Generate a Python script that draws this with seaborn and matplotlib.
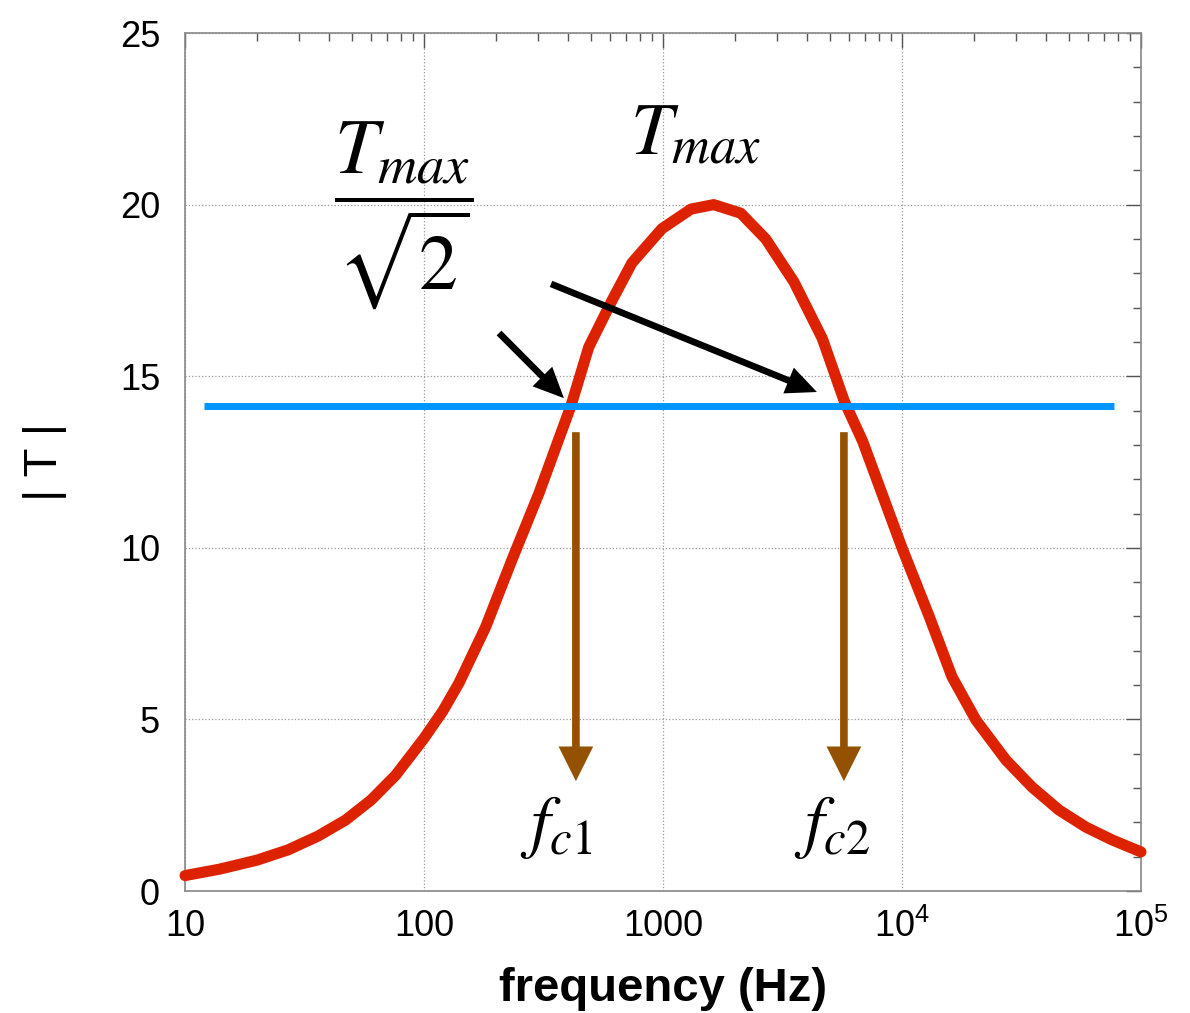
import numpy as np
import matplotlib
matplotlib.use("Agg")
import matplotlib.pyplot as plt
from matplotlib.ticker import FixedLocator, FixedFormatter, LogLocator, MultipleLocator, NullFormatter
import seaborn as sns

# --- données ---
freq = [10, 14, 20, 27, 36, 47, 60, 76, 100, 120, 140, 181, 233, 303, 412,
        489, 611, 741, 990, 1310, 1630, 2115, 2690, 3530, 4640, 5750, 6850,
        10000, 13000, 16200, 20400, 27200, 35000, 45400, 58900, 75700, 100000]
T_mod = [0.45, 0.64, 0.9, 1.2, 1.6, 2.07, 2.65, 3.37, 4.45, 5.25, 6.06, 7.69,
         9.64, 11.6, 14.14, 15.85, 17.2, 18.3, 19.3, 19.87, 20.0, 19.75, 19.0,
         17.75, 16.1, 14.25, 13.1, 10.0, 8.0, 6.24, 4.98, 3.82, 3.03, 2.36,
         1.86, 1.49, 1.14]

T_max = 20.0
niveau_freq = [12, 77000]
niveau_T = [T_max / np.sqrt(2)] * 2

fc = [432, 5715]           # fréquences de coupure
fc_labels = [r"$f_{\mathit{c1}}$", r"$f_{\mathit{c2}}$"]
fc_label_x = [356, 5095]
fc_arrow_top = 13.37
fc_arrow_tip = 3.2

xticks = [10, 100, 1000, 1e4, 1e5]
xtick_labels = ["10", "100", "1000", "$10^4$", "$10^5$"]
yticks = [0, 5, 10, 15, 20, 25]

red = "#DD2200"
blue = "#0096FF"
brown = "#945200"

sns.set_style("white")
plt.rcParams["font.family"] = ["Liberation Sans", "DejaVu Sans"]
plt.rcParams["mathtext.fontset"] = "custom"
plt.rcParams["mathtext.rm"] = "Liberation Sans"
plt.rcParams["mathtext.it"] = "Liberation Sans:italic"
plt.rcParams["text.color"] = "black"

fig = plt.figure(figsize=(11.9, 10.13), dpi=100)
ax = fig.add_axes([0.1555, 0.1204, 0.8033, 0.847])

# courbe |T|
sns.lineplot(x=freq, y=T_mod, ax=ax, color=red, clip_on=False, zorder=3)
# niveau Tmax / sqrt(2)
sns.lineplot(x=niveau_freq, y=niveau_T, ax=ax, color=blue,
             solid_capstyle="butt", zorder=4)
ax.lines[0].set_linewidth(8)
ax.lines[1].set_linewidth(5)

ax.set_xscale("log")
ax.set_xlim(10, 1e5)
ax.set_ylim(0, 25)

# flèches marron vers fc1 / fc2
for f in fc:
    ax.annotate("", xy=(f, fc_arrow_tip), xytext=(f, fc_arrow_top),
                arrowprops=dict(arrowstyle="simple,head_length=0.5,head_width=0.5,tail_width=0.11",
                                mutation_scale=50, color=brown, lw=0,
                                shrinkA=0, shrinkB=0), zorder=5)

for x, lab in zip(fc_label_x, fc_labels):
    ax.text(x, 1.85, lab, fontsize=50, ha="center", va="center",
            math_fontfamily="stix")

# annotations Tmax
ax.text(1374, 21.45, "$T_{max}$", fontsize=54, ha="center", va="baseline",
        math_fontfamily="stix")
ax.text(82, 19.7, r"$\dfrac{T_{max}}{\sqrt{2}}$", fontsize=56, ha="center",
        va="center", math_fontfamily="stix")

# flèches noires
fleche = dict(arrowstyle="simple,head_length=0.55,head_width=0.5,tail_width=0.12",
              mutation_scale=40, color="black", lw=0, shrinkA=0, shrinkB=0)
ax.annotate("", xy=(385, 14.36), xytext=(206, 16.26), arrowprops=fleche, zorder=6)
ax.annotate("", xy=(4405, 14.54), xytext=(340, 17.69), arrowprops=fleche, zorder=6)

# axes et graduations
ax.xaxis.set_major_locator(FixedLocator(xticks))
ax.xaxis.set_major_formatter(FixedFormatter(xtick_labels))
ax.xaxis.set_minor_locator(LogLocator(base=10, subs=np.arange(2, 10)))
ax.xaxis.set_minor_formatter(NullFormatter())
ax.set_yticks(yticks)
ax.yaxis.set_minor_locator(MultipleLocator(1))

ax.tick_params(which="both", direction="in", top=True, right=True,
               color="#555555", width=1, labelcolor="black")
ax.tick_params(which="major", length=11, labelsize=26)
ax.tick_params(axis="x", which="major", pad=13)
ax.tick_params(axis="y", which="major", pad=18)
ax.tick_params(which="minor", length=6)

for s in ax.spines.values():
    s.set_color("#888888")
    s.set_linewidth(1.2)

ax.grid(True, which="major", linestyle=":", color="#999999", linewidth=0.9)

ax.set_xlabel("frequency (Hz)", fontsize=34, fontweight="bold", color="black")
ax.set_ylabel("| T |", fontsize=34, color="black")
ax.xaxis.set_label_coords(0.5, -0.088)
ax.yaxis.set_label_coords(-0.123, 0.5)

plt.savefig("out.png", dpi=100)
